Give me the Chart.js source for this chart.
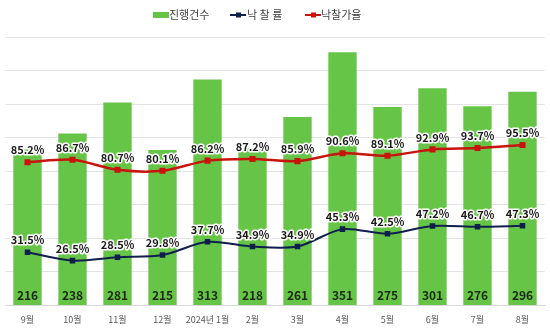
<!DOCTYPE html>
<html>
<head>
<meta charset="utf-8">
<script src="https://cdn.jsdelivr.net/npm/chart.js@4"></script>
<style>
	html, body { margin: 0; padding: 0; background: #ffffff; }
	#wrap { width: 550px; height: 332px; }
</style>
</head>
<body>
<div id="wrap"><canvas id="auction-chart" width="550" height="332"></canvas></div>
<script>
var months = ['9월', '10월', '11월', '12월', '2024년 1월', '2월', '3월', '4월', '5월', '6월', '7월', '8월'];
var counts = [216, 238, 281, 215, 313, 218, 261, 351, 275, 301, 276, 296];
var winRates = [31.5, 26.5, 28.5, 29.8, 37.7, 34.9, 34.9, 45.3, 42.5, 47.2, 46.7, 47.3];
var priceRates = [85.2, 86.7, 80.7, 80.1, 86.2, 87.2, 85.9, 90.6, 89.1, 92.9, 93.7, 95.5];

var green = '#66c447';
var navy = '#0f1f4d';
var red = '#c8140c';
var font = "'Noto Sans CJK KR', 'Noto Sans', sans-serif";

/* labels on bars and points */

var valueLabels = {
	id: 'valueLabels',
	afterDatasetsDraw: function(chart) {
		var ctx = chart.ctx;
		var bottom = chart.chartArea.bottom;
		ctx.save();
		ctx.textAlign = 'center';
		ctx.textBaseline = 'middle';
		chart.data.datasets.forEach(function(dataset, i) {
			var meta = chart.getDatasetMeta(i);
			meta.data.forEach(function(el, j) {
				if (dataset.type == 'bar') {
					ctx.font = 'bold 12px ' + font;
					ctx.fillStyle = '#1c2a14';
					ctx.fillText(dataset.data[j], el.x, bottom - 10);
				} else {
					var text = dataset.data[j].toFixed(1) + '%';
					ctx.font = 'bold 11px ' + font;
					ctx.lineJoin = 'round';
					ctx.lineWidth = 3;
					ctx.strokeStyle = '#ffffff';
					ctx.strokeText(text, el.x, el.y - 12);
					ctx.fillStyle = '#1a1a1a';
					ctx.fillText(text, el.x, el.y - 12);
				}
			});
		});
		ctx.restore();
	}
};

/* legend */

var legendBox = {
	id: 'legendBox',
	afterDraw: function(chart) {
		var ctx = chart.ctx;
		var y = 15;
		ctx.save();
		ctx.font = '11px ' + font;
		ctx.textBaseline = 'middle';
		ctx.fillStyle = green;
		ctx.fillRect(153, y - 3, 16, 6);
		ctx.fillStyle = '#444444';
		ctx.fillText('진행건수', 169, y);

		ctx.strokeStyle = navy;
		ctx.lineWidth = 2;
		ctx.beginPath();
		ctx.moveTo(230, y);
		ctx.lineTo(246, y);
		ctx.stroke();
		ctx.fillStyle = navy;
		ctx.fillRect(236, y - 2.5, 5, 5);
		ctx.fillStyle = '#444444';
		ctx.fillText('낙 찰 률', 247, y);

		ctx.strokeStyle = red;
		ctx.beginPath();
		ctx.moveTo(305, y);
		ctx.lineTo(321, y);
		ctx.stroke();
		ctx.fillStyle = red;
		ctx.fillRect(311, y - 2.5, 5, 5);
		ctx.fillStyle = '#444444';
		ctx.fillText('낙찰가율', 321, y);
		ctx.restore();
	}
};

var doInit = function() {
	var context = document.getElementById('auction-chart').getContext('2d');
	var payload = {
		data: {
			labels: months,
			datasets: [
				{ type: 'line', label: '낙 찰 률', data: winRates, yAxisID: 'y1', order: 1, borderColor: navy, backgroundColor: navy, borderWidth: 2, tension: 0.3, pointStyle: 'rect', pointRadius: 2.5, pointHoverRadius: 2.5 },
				{ type: 'line', label: '낙찰가율', data: priceRates, yAxisID: 'y1', order: 2, borderColor: red, backgroundColor: red, borderWidth: 2.5, tension: 0.3, pointStyle: 'rect', pointRadius: 2.5, pointHoverRadius: 2.5 },
				{ type: 'bar', label: '진행건수', data: counts, yAxisID: 'y', order: 3, backgroundColor: green, categoryPercentage: 1, barPercentage: 0.63 }
			]
		},
		options: {
			responsive: false,
			animation: false,
			layout: { padding: { top: 37, bottom: 0, left: 0, right: 0 } },
			plugins: { legend: { display: false }, tooltip: { enabled: false } },
			scales: {
				x: {
					grid: { display: false, drawTicks: false },
					border: { color: '#d9d9d9' },
					ticks: { color: '#595959', font: { size: 9, family: font }, padding: 9, maxRotation: 0, autoSkip: false },
					afterFit: function(scale) { scale.height = 27; }
				},
				y: {
					position: 'left', min: 0, max: 372,
					grid: { display: false }, border: { display: false },
					ticks: { display: false },
					afterFit: function(scale) { scale.width = 0; }
				},
				y1: {
					position: 'right', min: 0, max: 160,
					grid: { color: '#e3e3e3', drawTicks: false }, border: { display: false },
					ticks: { display: false, stepSize: 20 },
					afterFit: function(scale) { scale.width = 0; }
				}
			}
		},
		plugins: [valueLabels, legendBox]
	};
	new Chart(context, payload);
};

document.addEventListener('DOMContentLoaded', doInit);
</script>
</body>
</html>
